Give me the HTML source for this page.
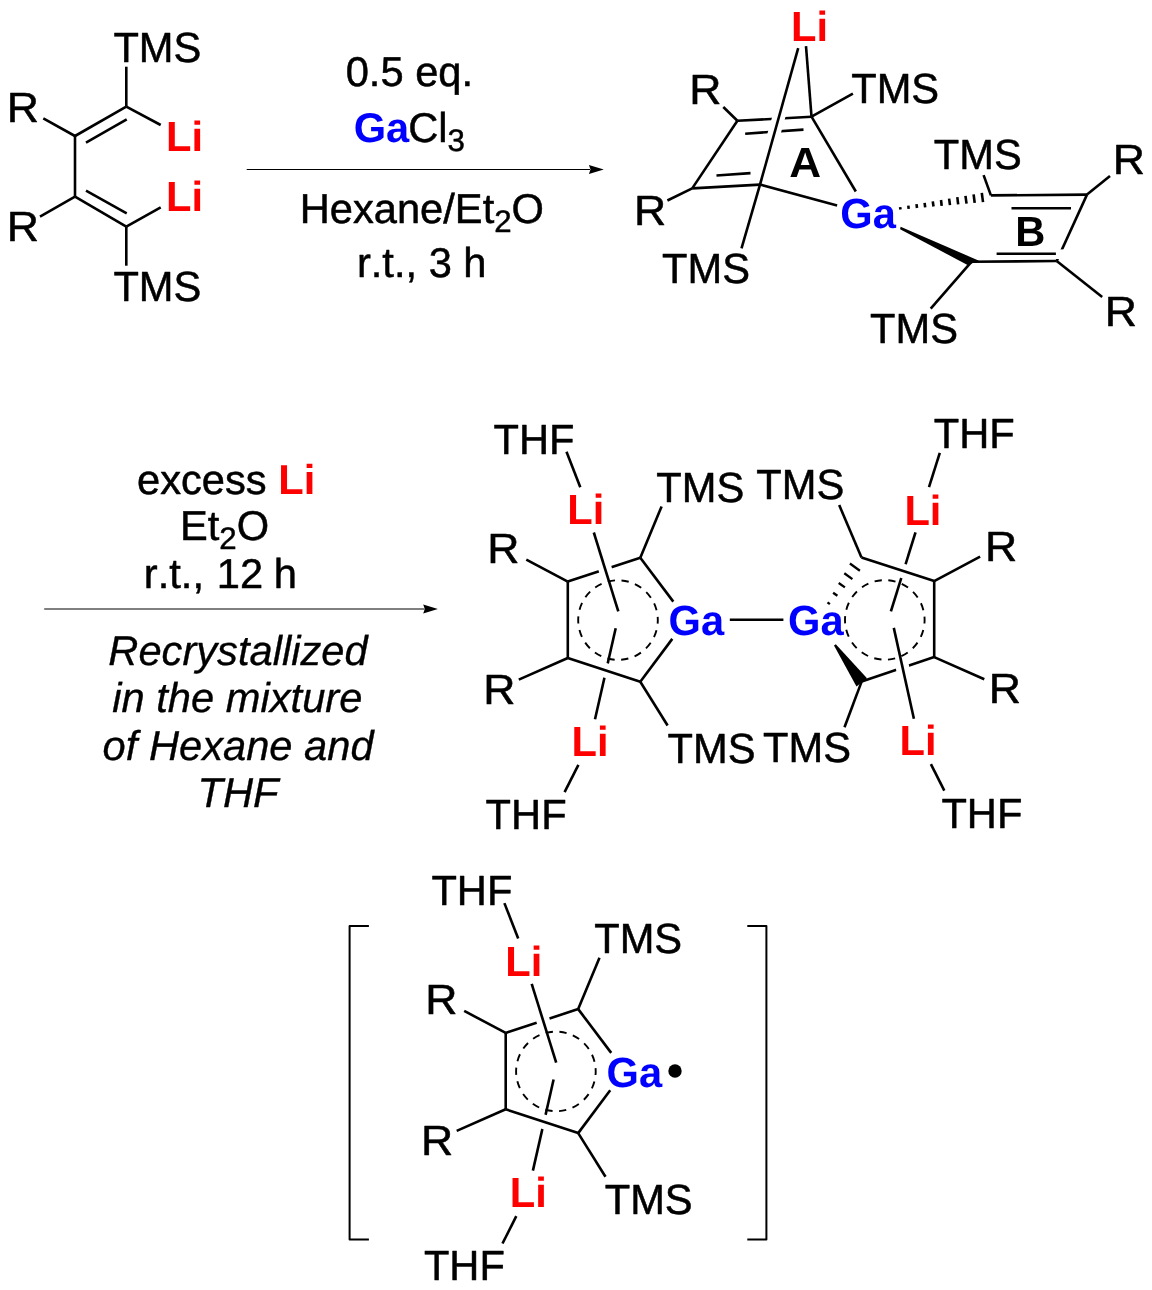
<!DOCTYPE html>
<html lang="en">
<head>
<meta charset="utf-8">
<title>Reaction scheme</title>
<style>
html,body{margin:0;padding:0;background:#fff;}
svg{display:block;will-change:transform;}
text{font-family:"Liberation Sans",sans-serif;font-size:41.67px;fill:#000;stroke:#000;stroke-width:0.5px;stroke-linejoin:round;font-kerning:none;font-variant-ligatures:none;text-rendering:geometricPrecision;}
.b{font-weight:bold;stroke:none;}
.i{font-style:italic;stroke-width:0.35px;}
.r{fill:#ff0000;}
.u{fill:#0000ff;}
</style>
</head>
<body>
<svg width="1152" height="1290" viewBox="0 0 1152 1290" stroke="#000" stroke-linecap="butt" fill="none">
<rect x="0" y="0" width="1152" height="1290" fill="#fff" stroke="none"/>
<text transform="translate(113.4,61.7) scale(1,1.015)" class="">TMS</text>
<line x1="126.3" y1="66.7" x2="126.3" y2="106.7" stroke-width="2.6" />
<line x1="126.3" y1="106.7" x2="160.7" y2="125.0" stroke-width="2.6" />
<line x1="126.3" y1="106.7" x2="75.0" y2="136.0" stroke-width="2.6" />
<line x1="86.0" y1="142.7" x2="126.7" y2="119.3" stroke-width="2.6" />
<line x1="75.0" y1="136.0" x2="43.3" y2="118.3" stroke-width="2.6" />
<line x1="75.0" y1="136.0" x2="75.0" y2="196.7" stroke-width="2.6" />
<line x1="75.0" y1="196.7" x2="126.3" y2="226.7" stroke-width="2.6" />
<line x1="86.0" y1="190.7" x2="126.7" y2="213.3" stroke-width="2.6" />
<line x1="75.0" y1="196.7" x2="40.0" y2="216.7" stroke-width="2.6" />
<line x1="126.3" y1="226.7" x2="160.7" y2="207.3" stroke-width="2.6" />
<line x1="126.3" y1="226.7" x2="126.3" y2="265.7" stroke-width="2.6" />
<text transform="translate(113.4,301.0) scale(1,1.015)" class="">TMS</text>
<text transform="translate(6.8,121.7) scale(1.07,1.015)">R</text>
<text transform="translate(6.8,240.7) scale(1.07,1.015)">R</text>
<text transform="translate(166.0,151.3) scale(1,1.015)" class="b r">Li</text>
<text transform="translate(166.0,211.3) scale(1,1.015)" class="b r">Li</text>
<line x1="246.7" y1="169.5" x2="590" y2="169.5" stroke-width="1"/>
<polygon points="603.8,169.6 588.9,165.1 590.5,169.6 588.9,174.0" fill="#000" stroke="none"/>
<text x="345.7" y="86.2" class="">0.5 eq.</text>
<text x="353.7" y="141.6" class=""><tspan class="b u">Ga</tspan><tspan dx="-1">Cl</tspan><tspan font-size="31.25" dy="9">3</tspan></text>
<text x="299.7" y="223.2" class="">Hexane/Et<tspan font-size="31.25" dy="9">2</tspan><tspan dy="-9">O</tspan></text>
<text x="356.9" y="277.4" class="">r.t., 3 h</text>
<line x1="737.4" y1="120.8" x2="811.5" y2="116.7" stroke-width="2.6" />
<line x1="745.2" y1="133.7" x2="803.5" y2="129.6" stroke-width="2.6" />
<line x1="737.4" y1="120.8" x2="723.3" y2="107.0" stroke-width="2.6" />
<line x1="737.4" y1="120.8" x2="692.2" y2="188.4" stroke-width="2.6" />
<line x1="692.2" y1="188.4" x2="760.0" y2="184.6" stroke-width="2.6" />
<line x1="716.5" y1="175.5" x2="750.5" y2="173.1" stroke-width="2.6" />
<line x1="692.2" y1="188.4" x2="667.4" y2="200.5" stroke-width="2.6" />
<line x1="760.0" y1="184.6" x2="837.1" y2="205.4" stroke-width="2.6" />
<line x1="811.5" y1="116.7" x2="855.8" y2="191.5" stroke-width="2.6" />
<line x1="811.5" y1="116.7" x2="852.9" y2="93.6" stroke-width="2.6" />
<line x1="806.0" y1="46.2" x2="811.5" y2="116.7" stroke-width="2.6" />
<line x1="791.0" y1="74.0" x2="766.0" y2="162.0" stroke="#fff" stroke-width="12.8"/>
<line x1="798.2" y1="48.1" x2="760.0" y2="184.6" stroke-width="2.6" />
<line x1="760.0" y1="184.6" x2="741.5" y2="248.4" stroke-width="2.6" />
<text transform="translate(791.1,41.4) scale(1,1.015)" class="b r">Li</text>
<text transform="translate(689.2,104.4) scale(1.07,1.015)">R</text>
<text transform="translate(634.0,224.6) scale(1.07,1.015)">R</text>
<text transform="translate(662.0,282.9) scale(1,1.015)" class="">TMS</text>
<text transform="translate(851.2,102.8) scale(1,1.015)" class="">TMS</text>
<text transform="translate(840.3,227.8) scale(1,1.015)" class="b u">Ga</text>
<text transform="translate(789.3,177.2) scale(1.06,1.015)" class="b">A</text>
<text transform="translate(933.8,168.8) scale(1,1.015)" class="">TMS</text>
<line x1="983.6" y1="175.1" x2="990.9" y2="195.4" stroke-width="2.6" />
<line x1="990.9" y1="195.4" x2="1087.0" y2="194.6" stroke-width="2.6" />
<line x1="1011.5" y1="208.2" x2="1071.0" y2="208.2" stroke-width="2.6" />
<line x1="1087.0" y1="194.6" x2="1110.0" y2="175.9" stroke-width="2.6" />
<text transform="translate(1112.8,174.3) scale(1.07,1.015)">R</text>
<line x1="1087.0" y1="194.6" x2="1056.7" y2="261.0" stroke-width="2.6" />
<line x1="1050.0" y1="254.2" x2="1064.0" y2="254.2" stroke="#fff" stroke-width="9.6"/>
<line x1="971.4" y1="261.8" x2="1056.7" y2="261.0" stroke-width="2.6" />
<line x1="996.6" y1="253.7" x2="1055.9" y2="253.7" stroke-width="2.6" />
<line x1="1056.7" y1="261.0" x2="1102.2" y2="297.0" stroke-width="2.6" />
<text transform="translate(1104.8,326.3) scale(1.07,1.015)">R</text>
<line x1="971.4" y1="261.8" x2="930.7" y2="308.6" stroke-width="2.6" />
<text transform="translate(870.0,342.7) scale(1,1.015)" class="">TMS</text>
<polygon points="900.6,226.8 900.1,229.2 967.5,265.0 979.0,260.7" fill="#000" stroke="none"/>
<line x1="900.1" y1="207.1" x2="900.5" y2="209.5" stroke-width="2.6" />
<line x1="908.3" y1="205.6" x2="908.7" y2="208.8" stroke-width="2.6" />
<line x1="916.5" y1="204.2" x2="917.0" y2="208.0" stroke-width="2.6" />
<line x1="924.6" y1="202.8" x2="925.2" y2="207.3" stroke-width="2.6" />
<line x1="932.8" y1="201.4" x2="933.5" y2="206.5" stroke-width="2.6" />
<line x1="941.0" y1="200.0" x2="941.7" y2="205.8" stroke-width="2.6" />
<line x1="949.1" y1="198.6" x2="950.0" y2="205.1" stroke-width="2.6" />
<line x1="957.3" y1="197.2" x2="958.2" y2="204.3" stroke-width="2.6" />
<line x1="965.5" y1="195.8" x2="966.5" y2="203.6" stroke-width="2.6" />
<line x1="973.6" y1="194.4" x2="974.7" y2="202.8" stroke-width="2.6" />
<line x1="981.8" y1="192.9" x2="983.0" y2="202.1" stroke-width="2.6" />
<text transform="translate(1015.3,246.3) scale(1,1.015)" class="b">B</text>
<line x1="44.2" y1="609" x2="424.5" y2="609" stroke-width="1"/>
<polygon points="437.9,609.0 423.2,604.6 424.8,609.0 423.2,613.4" fill="#000" stroke="none"/>
<text x="137.0" y="494.4" class="">excess <tspan class="b r">Li</tspan></text>
<text x="180.0" y="540.3" class="">Et<tspan font-size="31.25" dy="9">2</tspan><tspan dy="-9">O</tspan></text>
<text x="143.8" y="588.4" class="">r.t.,<tspan dx="1.2"> 12</tspan><tspan dx="-0.9"> h</tspan></text>
<text x="108.3" y="664.7" class="i">Recrystallized</text>
<text x="112.3" y="712.2" class="i">in the mixture</text>
<text x="102.6" y="759.8" class="i">of Hexane and</text>
<text x="197.5" y="807.2" class="i">THF</text>
<line x1="566.5" y1="451.8" x2="580.3" y2="487.2" stroke-width="2.6" />
<line x1="661.6" y1="506.4" x2="640.3" y2="557.8" stroke-width="2.6" />
<line x1="640.3" y1="557.8" x2="673.3" y2="601.6" stroke-width="2.6" />
<line x1="567.8" y1="581.6" x2="526.3" y2="559.6" stroke-width="2.6" />
<line x1="567.8" y1="658.0" x2="518.8" y2="679.6" stroke-width="2.6" />
<line x1="640.3" y1="681.8" x2="672.3" y2="638.9" stroke-width="2.6" />
<line x1="640.3" y1="681.8" x2="667.6" y2="725.5" stroke-width="2.6" />
<circle cx="618.0" cy="620.1" r="39.8" fill="none" stroke-width="1.9" stroke-dasharray="7.30 6.59" stroke-dashoffset="3.65"/>
<line x1="615.7" y1="628.2" x2="595.0" y2="719.3" stroke-width="2.6" />
<line x1="601.3" y1="669.0" x2="610.8" y2="672.1" stroke="#fff" stroke-width="14.5"/>
<line x1="567.8" y1="658.0" x2="640.3" y2="681.8" stroke-width="2.6" />
<line x1="567.8" y1="581.6" x2="567.8" y2="658.0" stroke-width="2.6" />
<line x1="567.8" y1="581.6" x2="640.3" y2="557.8" stroke-width="2.6" />
<line x1="603.8" y1="564.5" x2="606.7" y2="574.1" stroke="#fff" stroke-width="13.5"/>
<line x1="593.8" y1="532.5" x2="618.3" y2="611.4" stroke-width="2.6" />
<line x1="578.4" y1="764.8" x2="564.6" y2="792.2" stroke-width="2.6" />
<text transform="translate(493.5,453.9) scale(1,1.015)" class="">THF</text>
<text transform="translate(567.2,524.2) scale(1,1.015)" class="b r">Li</text>
<text transform="translate(656.3,501.5) scale(1,1.015)" class="">TMS</text>
<text transform="translate(487.3,563.0) scale(1.07,1.015)">R</text>
<text transform="translate(483.2,703.5) scale(1.07,1.015)">R</text>
<text transform="translate(667.6,762.6) scale(1,1.015)" class="">TMS</text>
<text transform="translate(668.6,634.9) scale(1,1.015)" class="b u">Ga</text>
<text transform="translate(571.6,755.6) scale(1,1.015)" class="b r">Li</text>
<text transform="translate(485.6,828.7) scale(1,1.015)" class="">THF</text>
<line x1="729.8" y1="619.7" x2="783.4" y2="619.7" stroke-width="2.6" />
<text transform="translate(788.0,634.6) scale(1,1.015)" class="b u">Ga</text>
<text transform="translate(933.7,447.7) scale(1,1.015)" class="">THF</text>
<line x1="939.8" y1="452.9" x2="929.0" y2="487.2" stroke-width="2.6" />
<text transform="translate(904.4,524.5) scale(1,1.015)" class="b r">Li</text>
<text transform="translate(756.3,498.8) scale(1,1.015)" class="">TMS</text>
<line x1="839.2" y1="505.1" x2="861.5" y2="557.5" stroke-width="2.6" />
<text transform="translate(985.1,560.9) scale(1.07,1.015)">R</text>
<text transform="translate(988.8,703.0) scale(1.07,1.015)">R</text>
<text transform="translate(763.1,761.7) scale(1,1.015)" class="">TMS</text>
<text transform="translate(899.6,755.1) scale(1,1.015)" class="b r">Li</text>
<line x1="930.9" y1="764.2" x2="944.3" y2="790.7" stroke-width="2.6" />
<text transform="translate(941.4,828.2) scale(1,1.015)" class="">THF</text>
<circle cx="884.8" cy="619.9" r="39.8" fill="none" stroke-width="1.9" stroke-dasharray="7.30 6.59" stroke-dashoffset="3.65"/>
<line x1="915.5" y1="532.4" x2="890.9" y2="611.3" stroke-width="2.6" />
<line x1="898.7" y1="569.6" x2="908.2" y2="572.6" stroke="#fff" stroke-width="14.5"/>
<line x1="861.5" y1="557.5" x2="934.2" y2="581.1" stroke-width="2.6" />
<line x1="934.2" y1="581.1" x2="934.2" y2="657.1" stroke-width="2.6" />
<line x1="934.2" y1="581.1" x2="980.1" y2="556.6" stroke-width="2.6" />
<line x1="934.2" y1="657.1" x2="984.3" y2="679.2" stroke-width="2.6" />
<line x1="861.7" y1="681.4" x2="934.2" y2="657.1" stroke-width="2.6" />
<line x1="901.5" y1="662.8" x2="903.6" y2="672.6" stroke="#fff" stroke-width="13.5"/>
<line x1="893.8" y1="627.9" x2="913.9" y2="718.8" stroke-width="2.6" />
<line x1="861.7" y1="681.4" x2="844.5" y2="727.2" stroke-width="2.6" />
<line x1="827.5" y1="602.4" x2="829.9" y2="604.2" stroke-width="2.3" />
<line x1="833.1" y1="592.7" x2="837.4" y2="595.8" stroke-width="2.3" />
<line x1="838.7" y1="583.0" x2="844.9" y2="587.4" stroke-width="2.3" />
<line x1="844.3" y1="573.2" x2="852.4" y2="579.1" stroke-width="2.3" />
<line x1="849.9" y1="563.5" x2="859.9" y2="570.7" stroke-width="2.3" />
<polygon points="835.8,644.2 834.0,645.6 856.5,686.5 867.0,678.2" fill="#000" stroke="none"/>
<line x1="504.4" y1="903.1" x2="518.2" y2="938.5" stroke-width="2.6" />
<line x1="599.5" y1="957.7" x2="578.2" y2="1009.1" stroke-width="2.6" />
<line x1="578.2" y1="1009.1" x2="611.2" y2="1052.9" stroke-width="2.6" />
<line x1="505.7" y1="1032.9" x2="464.2" y2="1010.9" stroke-width="2.6" />
<line x1="505.7" y1="1109.3" x2="456.7" y2="1130.9" stroke-width="2.6" />
<line x1="578.2" y1="1133.1" x2="610.2" y2="1090.2" stroke-width="2.6" />
<line x1="578.2" y1="1133.1" x2="605.5" y2="1176.8" stroke-width="2.6" />
<circle cx="555.9" cy="1071.4" r="39.8" fill="none" stroke-width="1.9" stroke-dasharray="7.30 6.59" stroke-dashoffset="3.65"/>
<line x1="553.6" y1="1079.5" x2="532.9" y2="1170.6" stroke-width="2.6" />
<line x1="539.2" y1="1120.3" x2="548.7" y2="1123.4" stroke="#fff" stroke-width="14.5"/>
<line x1="505.7" y1="1109.3" x2="578.2" y2="1133.1" stroke-width="2.6" />
<line x1="505.7" y1="1032.9" x2="505.7" y2="1109.3" stroke-width="2.6" />
<line x1="505.7" y1="1032.9" x2="578.2" y2="1009.1" stroke-width="2.6" />
<line x1="541.6" y1="1015.8" x2="544.6" y2="1025.4" stroke="#fff" stroke-width="13.5"/>
<line x1="531.7" y1="983.8" x2="556.2" y2="1062.7" stroke-width="2.6" />
<line x1="516.3" y1="1216.1" x2="502.5" y2="1243.5" stroke-width="2.6" />
<text transform="translate(431.4,905.2) scale(1,1.015)" class="">THF</text>
<text transform="translate(505.3,975.7) scale(1,1.015)" class="b r">Li</text>
<text transform="translate(594.2,952.8) scale(1,1.015)" class="">TMS</text>
<text transform="translate(425.2,1014.3) scale(1.07,1.015)">R</text>
<text transform="translate(421.1,1154.8) scale(1.07,1.015)">R</text>
<text transform="translate(604.7,1213.9) scale(1,1.015)" class="">TMS</text>
<text transform="translate(606.5,1086.7) scale(1,1.015)" class="b u">Ga</text>
<text transform="translate(509.7,1207.3) scale(1,1.015)" class="b r">Li</text>
<text transform="translate(423.9,1280.3) scale(1,1.015)" class="">THF</text>
<circle cx="675" cy="1071" r="6.7" fill="#000" stroke="none"/>
<path d="M368.9,926 H349.6 V1239.4 H368.9" fill="none" stroke-width="2" stroke-linejoin="round"/>
<path d="M747.3,926 H766.4 V1239.4 H747.3" fill="none" stroke-width="2" stroke-linejoin="round"/>
</svg>
</body>
</html>
